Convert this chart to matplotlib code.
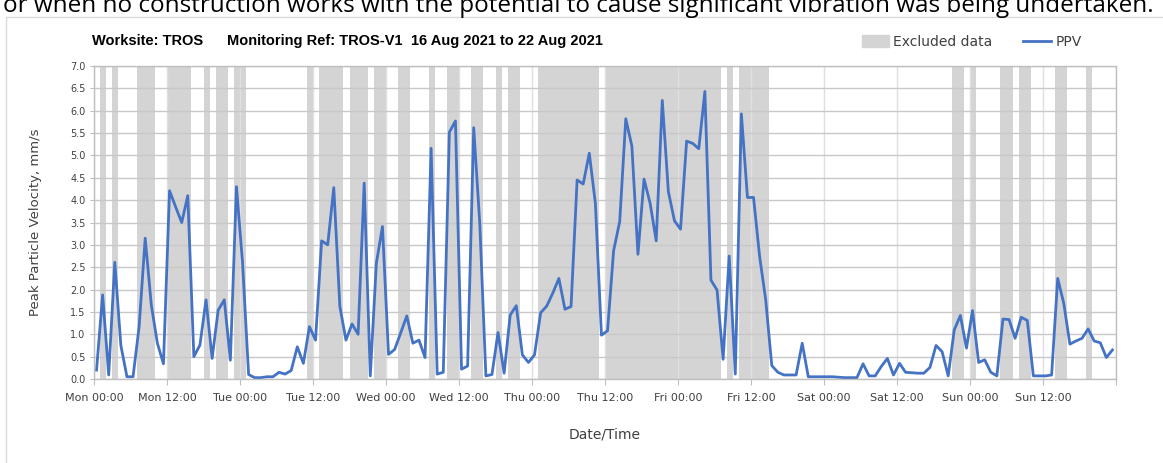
import matplotlib
matplotlib.use("Agg")
import matplotlib.pyplot as plt
import matplotlib.dates as mdates
from matplotlib.patches import Patch, Rectangle
from matplotlib.lines import Line2D
import pandas as pd

# hourly PPV readings, 16 Aug 2021 (Mon) to 22 Aug 2021 (Sun)
ppv = [
    0.20, 1.88, 0.09, 2.61, 0.75, 0.05, 0.05, 1.17, 3.15, 1.66, 0.80, 0.34,
    4.21, 3.85, 3.50, 4.10, 0.50, 0.76, 1.77, 0.46, 1.54, 1.77, 0.42, 4.30,
    2.60, 0.10, 0.03, 0.03, 0.05, 0.05, 0.15, 0.11, 0.19, 0.72, 0.35, 1.17,
    0.87, 3.09, 3.00, 4.28, 1.62, 0.87, 1.23, 1.00, 4.38, 0.07, 2.59, 3.41,
    0.55, 0.66, 1.03, 1.41, 0.80, 0.87, 0.48, 5.16, 0.11, 0.15, 5.52, 5.77,
    0.22, 0.29, 5.62, 3.48, 0.07, 0.10, 1.04, 0.13, 1.43, 1.64, 0.54, 0.37,
    0.54, 1.48, 1.63, 1.92, 2.25, 1.56, 1.62, 4.45, 4.36, 5.05, 3.93, 0.98,
    1.08, 2.87, 3.52, 5.82, 5.21, 2.79, 4.47, 3.93, 3.09, 6.23, 4.19, 3.54,
    3.35, 5.32, 5.27, 5.15, 6.43, 2.21, 1.99, 0.44, 2.75, 0.11, 5.93, 4.06,
    4.06, 2.74, 1.77, 0.30, 0.15, 0.09, 0.09, 0.09, 0.80, 0.05, 0.05, 0.05,
    0.05, 0.05, 0.04, 0.03, 0.03, 0.03, 0.34, 0.07, 0.07, 0.28, 0.46, 0.09,
    0.35, 0.15, 0.14, 0.13, 0.13, 0.26, 0.75, 0.61, 0.07, 1.10, 1.42, 0.69,
    1.53, 0.37, 0.43, 0.15, 0.07, 1.34, 1.33, 0.91, 1.38, 1.31, 0.07, 0.07,
    0.07, 0.09, 2.25, 1.69, 0.78, 0.85, 0.91, 1.12, 0.85, 0.81, 0.48, 0.65,
]
times = pd.date_range("2021-08-16 00:25", periods=len(ppv), freq="h")

# excluded periods, hours from Mon 00:00
excl_start = [1, 3, 7, 12, 18, 20, 23, 35, 37, 42, 46, 50, 55, 58, 62, 66, 68,
              73, 84, 104, 106, 141, 144, 149, 152, 158, 163]
excl_end = [2, 4, 10, 16, 19, 22, 25, 36, 41, 45, 48, 52, 56, 60, 64, 67, 70,
            83, 103, 105, 111, 143, 145, 151, 154, 160, 164]

start = pd.Timestamp("2021-08-16 00:00")
end = start + pd.Timedelta(hours=168)

fig = plt.figure(figsize=(11.63, 4.63), dpi=100)
W, H = 1163, 463
ax = fig.add_axes([94 / W, 1 - 379 / H, (1116 - 94) / W, (379 - 66) / H])

# sentence cut off at the top of the image
fig.text(0.497, 1 - 12 / H, "or when no construction works with the potential to cause "
         "significant vibration was being undertaken.",
         ha="center", va="baseline", fontsize=17.5, color="black", family="Open Sans")

# chart border
fig.patches.append(Rectangle((6 / W, -0.05), 1.2, 1 - 17 / H + 0.05,
                             transform=fig.transFigure, fill=False,
                             edgecolor="#d9d9d9", lw=1))

for s, e in zip(excl_start, excl_end):
    ax.axvspan(start + pd.Timedelta(hours=s), start + pd.Timedelta(hours=e),
               color="#d4d4d4", lw=0, zorder=1)

ax.plot(times, ppv, color="#4472C4", lw=2, zorder=3)

ax.set_xlim(start, end)
ax.set_ylim(0, 7)
ax.set_yticks([i * 0.5 for i in range(15)])
ax.yaxis.set_major_formatter(matplotlib.ticker.FormatStrFormatter("%.1f"))
ax.xaxis.set_major_locator(mdates.HourLocator(byhour=[0, 12]))
ax.xaxis.set_major_formatter(mdates.DateFormatter("%a %H:%M"))
ax.grid(True, axis="y", color="#c8c8c8", lw=1, zorder=2)
ax.grid(True, axis="x", color="#e0e0e0", lw=1, zorder=2)
ax.set_axisbelow(False)

for sp in ax.spines.values():
    sp.set_color("#bfbfbf")
    sp.set_linewidth(1)
    sp.set_zorder(4)

ax.tick_params(axis="x", labelsize=8, colors="#404040", length=4, color="#bfbfbf", pad=6)
ax.tick_params(axis="y", labelsize=7, colors="#404040", length=3, color="#bfbfbf", pad=3)
labels = ax.get_xticklabels()
ax.set_xticks(ax.get_xticks())
ax.set_xticklabels([t.get_text() if i < 14 else "" for i, t in enumerate(labels)])

ax.set_ylabel("Peak Particle Velocity, mm/s", fontsize=9.5, color="#404040", labelpad=20)
ax.set_xlabel("Date/Time", fontsize=10, color="#404040", labelpad=18)

ty = 1 - 45 / H
tfont = dict(fontsize=10.5, fontweight="bold", family="Liberation Sans")
fig.text(92 / W, ty, "Worksite: TROS", **tfont)
fig.text(227 / W, ty, "Monitoring Ref: TROS-V1", **tfont)
fig.text(411 / W, ty, "16 Aug 2021 to 22 Aug 2021", **tfont)

handles = [Patch(color="#d4d4d4", label="Excluded data"),
           Line2D([], [], color="#4472C4", lw=2, label="PPV")]
fig.legend(handles=handles, ncol=2, loc="center left",
           bbox_to_anchor=(849 / W, 1 - 42 / H), frameon=False, fontsize=10,
           handlelength=2.0, handleheight=1.0, columnspacing=2.2, handletextpad=0.3,
           labelcolor="#404040")

fig.savefig("out.png", dpi=100)
